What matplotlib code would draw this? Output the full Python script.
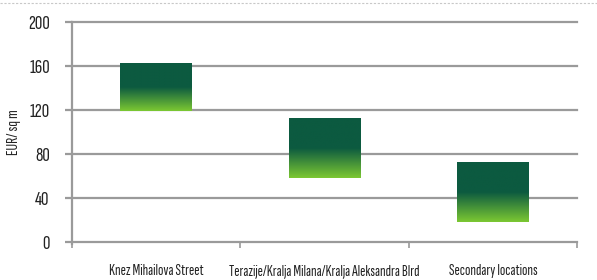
import numpy as np
import matplotlib.pyplot as plt
from matplotlib.colors import LinearSegmentedColormap
from matplotlib.lines import Line2D

plt.rcParams['font.family'] = ['Sofia Sans Extra Condensed', 'DejaVu Sans']

categories = ['Knez Mihailova Street',
              'Terazije/Kralja Milana/Kralja Aleksandra Blrd',
              'Secondary locations']
low = [119, 58, 18]
high = [162, 112, 72]
yticks = [0, 40, 80, 120, 160, 200]

grid_col = '#9a9a9a'
cmap = LinearSegmentedColormap.from_list(
    'grn', [(0, '#7cc832'), (0.5, '#0c5a40'), (1, '#0c5a40')])

fig = plt.figure(figsize=(5.97, 2.80), dpi=100)
ax = fig.add_axes([0.1206, 0.1368, 0.8467, 0.7857])

x = np.arange(len(categories))
bars = ax.bar(x, np.array(high) - np.array(low), bottom=low, width=0.425,
              color='none', zorder=3)
grad = np.linspace(0, 1, 256).reshape(-1, 1)
for b in bars:
    x0, y0 = b.get_x(), b.get_y()
    ax.imshow(grad, cmap=cmap, origin='lower', aspect='auto', zorder=3,
              extent=(x0, x0 + b.get_width(), y0, y0 + b.get_height()))

ax.set_xlim(-0.5, 2.5)
ax.set_ylim(0, 200)
ax.set_yticks(yticks)
ax.set_yticklabels([str(v) for v in yticks], fontsize=15, color='#222222')
for v in yticks:
    ax.axhline(v, color=grid_col, lw=1.6, zorder=1, clip_on=False)
ax.tick_params(axis='y', length=5, width=1.6, color=grid_col, pad=11)

ax.set_xticks([-0.5, 0.5, 1.5, 2.5])
ax.set_xticklabels([])
ax.set_xticks(x, minor=True)
ax.set_xticklabels(categories, minor=True, fontsize=11.5, color='#222222')
ax.tick_params(axis='x', which='major', length=4, width=1.2, color=grid_col)
ax.tick_params(axis='x', which='minor', length=0, pad=16)

for s in ['top', 'right', 'bottom']:
    ax.spines[s].set_visible(False)
ax.spines['left'].set_color(grid_col)
ax.spines['left'].set_linewidth(1.6)
ax.spines['left'].set_bounds(-2.5, 200)

ax.set_ylabel('EUR/ sq m', fontsize=12, labelpad=5, color='#222222')

fig.add_artist(Line2D([0, 1], [0.989, 0.989], transform=fig.transFigure,
                      color='#c8c8c8', lw=0.8, ls=(0, (2, 1.5))))

fig.savefig('out.png', dpi=100)
